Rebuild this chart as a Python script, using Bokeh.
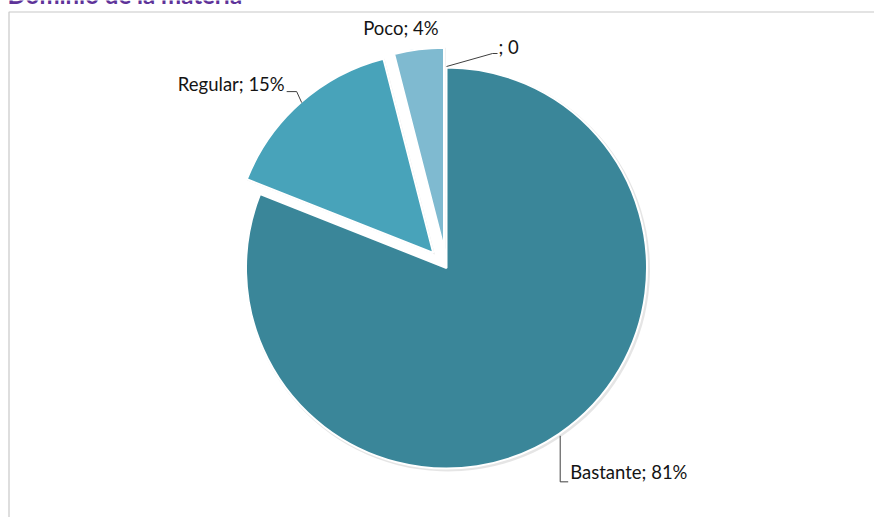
import numpy as np
from bokeh.plotting import figure
from bokeh.models import Range1d, ColumnDataSource
from bokeh.embed import file_html
from bokeh.resources import INLINE
from bokeh.core.properties import value

# ---- data ----
title_text = "Dominio de la materia"
categories = ["Bastante", "Regular", "Poco", ""]
percents = [81, 15, 4, 0]
labels = ["Bastante; 81%", "Regular; 15%", "Poco; 4%", "; 0"]

# ---- style / layout ----
colors = ["#3A8699", "#48A3BA", "#7FBAD0", "#3A8699"]
explode = [0, 20, 20, 0]
W, H = 874, 517
CX, CY = 446.0, 267.5      # page px
R = 200.5
FONT = "Lato"
# label layout: leader polyline offsets (from slice edge point, page px), text offset, align
label_layout = [
    dict(leader=[(1, 2), (1, 48), (9, 48)], text=(11, 38), align="left"),
    dict(leader=[(1, 0), (-4, -11), (-14, -11)], text=(-16, -19), align="right"),
    dict(leader=None, text=(-18, -21), align="center"),
    dict(leader=[(0, -1), (46, -14), (51, -14)], text=(52, -21), align="left"),
]


def Y(y):
    return H - y


p = figure(width=W, height=H, output_backend="svg", toolbar_location=None,
           x_range=Range1d(0, W), y_range=Range1d(0, H), min_border=0)
p.axis.visible = False
p.grid.visible = False
p.outline_line_color = None
p.background_fill_color = "white"
p.border_fill_color = "white"

# chart box
p.line(x=[8.5, 8.5, W + 20], y=[Y(H + 20), Y(11.5), Y(11.5)], line_color="#C8C8C8", line_width=1.2)

vals = np.array(percents, dtype=float)
fr = vals / vals.sum()
cum = np.concatenate([[0], np.cumsum(fr)])
th0 = cum[:-1] * 2 * np.pi
th1 = cum[1:] * 2 * np.pi
mid = (th0 + th1) / 2

xs, ys, sa, ea, cols = [], [], [], [], []
for i in range(len(vals)):
    if vals[i] <= 0:
        continue
    dx = explode[i] * np.sin(mid[i])
    dy = explode[i] * np.cos(mid[i])
    xs.append(CX + dx)
    ys.append(Y(CY) + dy)
    sa.append(np.pi / 2 - th0[i])
    ea.append(np.pi / 2 - th1[i])
    cols.append(colors[i])

src = ColumnDataSource(dict(x=xs, y=ys, sa=sa, ea=ea, c=cols))
shadow = ColumnDataSource(dict(x=[v + 1.5 for v in xs], y=[v - 1.5 for v in ys], sa=sa, ea=ea))
p.wedge(x="x", y="y", radius=R + 1.5, start_angle="sa", end_angle="ea", direction="clock",
        source=shadow, fill_color="#000000", fill_alpha=0.10, line_color=None)
p.wedge(x="x", y="y", radius=R, start_angle="sa", end_angle="ea", direction="clock",
        source=src, fill_color="c", line_color="white", line_width=2)

# labels
lxs, lys = [], []
for i in range(len(vals)):
    e = explode[i]
    ex_page = CX + e * np.sin(mid[i]) + R * np.sin(mid[i])
    ey_page = CY - e * np.cos(mid[i]) - R * np.cos(mid[i])
    lay = label_layout[i]
    if lay["leader"]:
        lxs.append([ex_page + a for a, b in lay["leader"]])
        lys.append([Y(ey_page + b) for a, b in lay["leader"]])
    tx, ty = lay["text"]
    p.text(x=[ex_page + tx], y=[Y(ey_page + ty)], text=[labels[i]], text_align=lay["align"],
           text_baseline="middle", text_font=value(FONT), text_font_size="18.5px", text_color="#141414")

p.multi_line(xs=lxs, ys=lys, line_color="#3F3F3F", line_width=1)

# title (partially cut at top, as in the reference)
p.text(x=[7], y=[Y(-6)], text=[title_text], text_align="left", text_baseline="alphabetic",
       text_font=value(FONT), text_font_style="bold", text_font_size="24px", text_color="#5E3399")

open("out.html", "w").write(file_html(p, INLINE))
